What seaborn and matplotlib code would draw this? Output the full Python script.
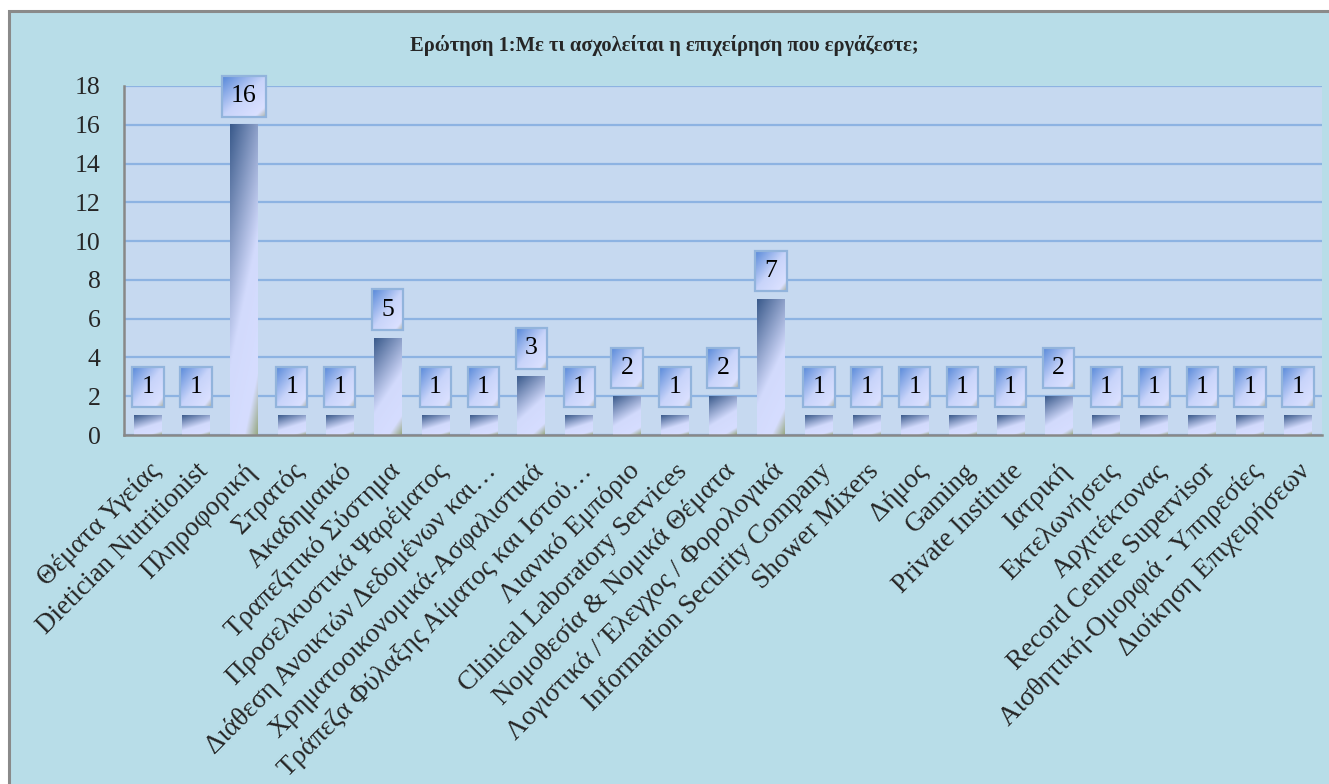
import numpy as np
import pandas as pd
import matplotlib
matplotlib.use("Agg")
import matplotlib.pyplot as plt
import seaborn as sns
from matplotlib.colors import LinearSegmentedColormap
from matplotlib.patches import Rectangle

categories = [
    "Θέματα Υγείας", "Dietician Nutritionist", "Πληροφορική", "Στρατός",
    "Ακαδημαικό", "Τραπεζιτικό Σύστημα", "Προσελκυστικά Ψαρέματος",
    "Διάθεση Ανοικτών Δεδομένων και…", "Χρηματοοικονομικά-Ασφαλιστικά",
    "Τράπεζα Φύλαξης Αίματος και Ιστού…", "Λιανικό Εμπόριο",
    "Clinical Laboratory Services", "Νομοθεσία & Νομικά Θέματα",
    "Λογιστικά / Έλεγχος / Φορολογικά", "Information Security Company",
    "Shower Mixers", "Δήμος", "Gaming", "Private Institute", "Ιατρική",
    "Εκτελωνήσεις", "Αρχιτέκτονας", "Record Centre Supervisor",
    "Αισθητική-Ομορφιά - Υπηρεσίες", "Διοίκηση Επιχειρήσεων",
]
values = [1, 1, 16, 1, 1, 5, 1, 1, 3, 1, 2, 1, 2, 7, 1, 1, 1, 1, 1, 2, 1, 1, 1, 1, 1]
yticks = [0, 2, 4, 6, 8, 10, 12, 14, 16, 18]
title = "Ερώτηση 1:Με τι ασχολείται η επιχείρηση που εργάζεστε;"

sns.set_style("white")
plt.rcParams['font.family'] = ['Liberation Serif', 'DejaVu Serif']

W, H = 1329, 784
fig = plt.figure(figsize=(W / 100, H / 100), dpi=100, facecolor="white")

# outer chart frame
frame = Rectangle((9 / W, -0.1), 1.2, 1 - 11 / H + 0.1, transform=fig.transFigure,
                  facecolor="#b8dde8", edgecolor="#8a8a8a", linewidth=2.2, zorder=-10)
fig.patches.append(frame)

ax = fig.add_axes([124 / W, 1 - 435 / H, (1322 - 124) / W, (435 - 86) / H])
ax.set_facecolor("#c6d9f0")

df = pd.DataFrame({"cat": categories, "val": values})
sns.barplot(data=df, x="cat", y="val", ax=ax, color="#7f9ccc", width=0.58,
            saturation=1, order=categories)

ax.set_ylim(0, 18)
ax.set_xlim(-0.5, len(categories) - 0.5)
ax.set_yticks(yticks)
ax.set_yticklabels([str(t) for t in yticks], fontsize=18.5)
ax.set_xticks(range(len(categories)))
ax.set_xticklabels(categories, rotation=45, ha="right", va="top",
                   rotation_mode="anchor", fontsize=19.5)
ax.tick_params(axis="y", length=0, pad=17)
ax.tick_params(axis="x", length=0, pad=17)
ax.set_xlabel("")
ax.set_ylabel("")

ax.grid(axis="y", color="#8db3e2", linewidth=1.6)
ax.grid(axis="x", visible=False)
ax.set_axisbelow(True)
for s in ["top", "right"]:
    ax.spines[s].set_visible(False)
for s in ["left", "bottom"]:
    ax.spines[s].set_color("#888888")
    ax.spines[s].set_linewidth(1.8)
    ax.spines[s].set_zorder(5)

# gradient fills for bars
bar_cmap = LinearSegmentedColormap.from_list(
    "bar", [(0, "#3a5a8b"), (0.55, "#d2dafc"), (0.86, "#d6ddff"), (1.0, "#98a983")])
n = 120
uu, vv = np.meshgrid(np.linspace(0, 1, n), np.linspace(0, 1, n))
bar_grad = bar_cmap(0.3 * uu + 0.7 * vv)[:, :, :3]

for p in ax.patches:
    x0, y0 = p.get_x(), p.get_y()
    w, h = p.get_width(), p.get_height()
    p.set_facecolor("none")
    p.set_edgecolor("none")
    ax.imshow(bar_grad, extent=[x0, x0 + w, y0, y0 + h], origin="upper",
              aspect="auto", zorder=2, interpolation="bilinear")

# value labels
anns = []
for i, v in enumerate(values):
    a = ax.annotate(str(v), xy=(i, v), xytext=(0, 20.5), textcoords="offset points",
                    ha="center", va="center", fontsize=18.5, color="black", zorder=6,
                    annotation_clip=False,
                    bbox=dict(boxstyle="square,pad=0.36", fc="none", ec="#92b4dc", lw=1.6))
    anns.append(a)

ax.set_ylim(0, 18)
ax.set_xlim(-0.5, len(categories) - 0.5)

fig.text(0.5, 1 - 45 / H, title, ha="center", va="center", fontsize=14.8,
         fontweight="bold", family=["Liberation Serif", "DejaVu Serif"])

fig.canvas.draw()
renderer = fig.canvas.get_renderer()
box_cmap = LinearSegmentedColormap.from_list(
    "box", [(0, "#5587d8"), (0.5, "#c8d4fa"), (0.86, "#dae0ff"), (1.0, "#a6ae9e")])
box_grad = box_cmap(0.5 * uu + 0.5 * vv)[:, :, :3]
inv = ax.transData.inverted()
for a in anns:
    ext = a.get_bbox_patch().get_window_extent(renderer)
    (bx0, by0) = inv.transform((ext.x0, ext.y0))
    (bx1, by1) = inv.transform((ext.x1, ext.y1))
    im = ax.imshow(box_grad, extent=[bx0, bx1, by0, by1], origin="upper",
                   aspect="auto", zorder=5.5, interpolation="bilinear")
    im.set_clip_on(False)

ax.set_ylim(0, 18)
ax.set_xlim(-0.5, len(categories) - 0.5)

fig.savefig("out.png", dpi=100, facecolor="white")
